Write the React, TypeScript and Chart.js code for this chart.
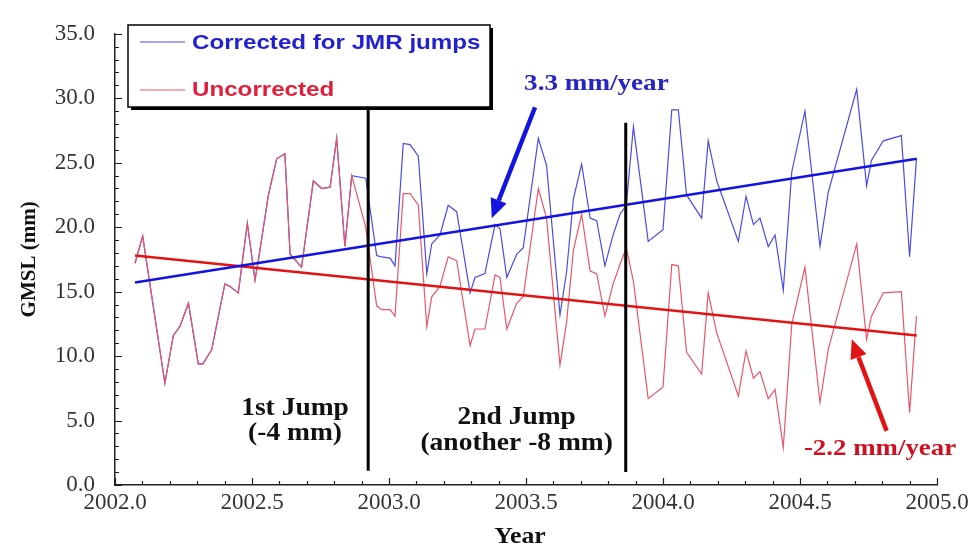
import React, { useEffect, useRef } from 'react';
import { Chart, registerables } from 'chart.js';

Chart.register(...registerables);

// ---------- data ----------
const years = [
  2002.073, 2002.101, 2002.182, 2002.213, 2002.237, 2002.268, 2002.304, 2002.321, 2002.353, 2002.401,
  2002.420, 2002.450, 2002.483, 2002.511, 2002.523, 2002.560, 2002.590, 2002.620, 2002.639, 2002.681,
  2002.724, 2002.754, 2002.785, 2002.809, 2002.839, 2002.864, 2002.915, 2002.955, 2002.973, 2003.004,
  2003.022, 2003.052, 2003.077, 2003.107, 2003.138, 2003.156, 2003.186, 2003.216, 2003.247, 2003.296,
  2003.314, 2003.350, 2003.387, 2003.405, 2003.430, 2003.466, 2003.490, 2003.545, 2003.575, 2003.624,
  2003.648, 2003.673, 2003.703, 2003.734, 2003.758, 2003.788, 2003.818, 2003.843, 2003.866, 2003.892,
  2003.946, 2004.000, 2004.032, 2004.056, 2004.086, 2004.141, 2004.165, 2004.196, 2004.275, 2004.303,
  2004.330, 2004.354, 2004.384, 2004.409, 2004.439, 2004.470, 2004.518, 2004.573, 2004.603, 2004.707,
  2004.743, 2004.761, 2004.804, 2004.870, 2004.900, 2004.925,
];

const uncorrected = [
  17.2, 19.3, 7.9, 11.6, 12.3, 14.1, 9.4, 9.4, 10.5, 15.6,
  15.4, 14.9, 20.3, 15.9, 17.4, 22.5, 25.3, 25.7, 17.9, 16.9,
  23.6, 23.0, 23.1, 26.9, 18.5, 24.0, 20.0, 13.9, 13.6, 13.6,
  13.1, 22.6, 22.6, 21.7, 12.3, 14.6, 15.4, 17.7, 17.4, 10.8,
  12.1, 12.1, 16.3, 16.1, 12.1, 14.1, 14.6, 23.0, 20.7, 9.3,
  12.6, 18.2, 21.0, 16.6, 16.4, 13.1, 15.6, 17.1, 18.4, 15.8,
  6.7, 7.6, 17.1, 17.0, 10.3, 8.6, 14.9, 11.8, 6.9, 10.4,
  8.3, 8.8, 6.7, 7.4, 2.9, 12.5, 16.9, 6.4, 10.5, 18.7,
  11.3, 13.1, 14.9, 15.0, 5.6, 13.1,
];

const corrected = [
  17.2, 19.3, 7.9, 11.6, 12.3, 14.1, 9.4, 9.4, 10.5, 15.6,
  15.4, 14.9, 20.3, 15.9, 17.4, 22.5, 25.3, 25.7, 17.9, 16.9,
  23.6, 23.0, 23.1, 26.9, 18.5, 24.0, 23.8, 17.8, 17.7, 17.6,
  17.0, 26.5, 26.4, 25.5, 16.4, 18.7, 19.4, 21.7, 21.2, 14.9,
  16.1, 16.4, 20.2, 19.9, 16.1, 17.9, 18.4, 26.9, 24.8, 13.2,
  16.5, 22.2, 24.9, 20.7, 20.5, 17.0, 19.4, 21.0, 21.7, 27.8,
  18.9, 19.8, 29.1, 29.1, 22.5, 20.7, 26.7, 23.6, 18.9, 22.4,
  20.2, 20.7, 18.5, 19.4, 15.1, 24.3, 29.0, 18.5, 22.7, 30.7,
  23.2, 25.2, 26.7, 27.1, 17.7, 25.3,
];

const trendYears = [2002.073, 2004.926];
const correctedTrend = [15.7, 25.3];
const uncorrectedTrend = [17.8, 11.6];

const jumpYears = [2002.924, 2003.864];
const jumpBottoms = [1.1, 1.0];
const jumpTops = [30.0, 28.1];

const xTicks = [2002.0, 2002.5, 2003.0, 2003.5, 2004.0, 2004.5, 2005.0];
const yTicks = [0, 5, 10, 15, 20, 25, 30, 35];

const legendLabels = ['Corrected for JMR jumps', 'Uncorrected'];
const correctedRateLabel = '3.3 mm/year';
const uncorrectedRateLabel = '-2.2 mm/year';
const jump1Label = ['1st Jump', '(-4 mm)'];
const jump2Label = ['2nd Jump', '(another -8 mm)'];

// ---------- styles ----------
const BLUE_DATA = '#4a4ae6';
const RED_DATA = '#e8566a';
const BLUE_TREND = '#1414e0';
const RED_TREND = '#e01414';
const SERIF = '"Liberation Serif", "Times New Roman", serif';
const SANS = '"Liberation Sans", Arial, sans-serif';

const toXY = (xs: number[], ys: number[]) => xs.map((x, i) => ({ x, y: ys[i] }));

function stretchText(
  ctx: CanvasRenderingContext2D,
  str: string,
  x: number,
  y: number,
  font: string,
  color: string,
  align: CanvasTextAlign = 'center',
  sx = 1.12
) {
  ctx.save();
  ctx.translate(x, y);
  ctx.scale(sx, 1);
  ctx.font = font;
  ctx.fillStyle = color;
  ctx.textAlign = align;
  ctx.textBaseline = 'middle';
  ctx.fillText(str, 0, 0);
  ctx.restore();
}

function arrow(
  ctx: CanvasRenderingContext2D,
  x1: number,
  y1: number,
  x2: number,
  y2: number,
  color: string
) {
  const ang = Math.atan2(y2 - y1, x2 - x1);
  const headLen = 19;
  const headW = 8.5;
  const bx = x2 - headLen * Math.cos(ang);
  const by = y2 - headLen * Math.sin(ang);
  ctx.save();
  ctx.strokeStyle = color;
  ctx.fillStyle = color;
  ctx.lineWidth = 4.5;
  ctx.beginPath();
  ctx.moveTo(x1, y1);
  ctx.lineTo(bx, by);
  ctx.stroke();
  ctx.beginPath();
  ctx.moveTo(x2, y2);
  ctx.lineTo(bx + headW * Math.sin(ang), by - headW * Math.cos(ang));
  ctx.lineTo(bx - headW * Math.sin(ang), by + headW * Math.cos(ang));
  ctx.closePath();
  ctx.fill();
  ctx.restore();
}

const decorPlugin = {
  id: 'decor',
  afterDraw(chart: any) {
    const ctx: CanvasRenderingContext2D = chart.ctx;
    const xs = chart.scales.x;
    const ys = chart.scales.y;
    const area = chart.chartArea;
    const px = (v: number) => xs.getPixelForValue(v);
    const py = (v: number) => ys.getPixelForValue(v);

    // inward tick marks
    ctx.save();
    ctx.strokeStyle = '#222';
    ctx.lineWidth = 1.2;
    ctx.beginPath();
    for (let i = 0; i <= 35; i++) {
      const y = Math.round(py(i)) + 0.5;
      const len = i % 5 === 0 ? 7 : 4;
      ctx.moveTo(area.left, y);
      ctx.lineTo(area.left + len, y);
    }
    for (let i = 0; i <= 30; i++) {
      const x = Math.round(px(2002 + i * 0.1)) + 0.5;
      const len = i % 5 === 0 ? 7 : 4;
      ctx.moveTo(x, area.bottom);
      ctx.lineTo(x, area.bottom - len);
    }
    ctx.stroke();
    ctx.restore();

    // axis titles
    ctx.save();
    ctx.translate(30, (area.top + area.bottom) / 2);
    ctx.rotate(-Math.PI / 2);
    ctx.font = `bold 21px ${SERIF}`;
    ctx.fillStyle = '#111';
    ctx.textAlign = 'center';
    ctx.textBaseline = 'middle';
    ctx.fillText('GMSL (mm)', 0, 0);
    ctx.restore();
    stretchText(ctx, 'Year', 520, 537, `bold 23px ${SERIF}`, '#111');

    // legend box with shadow
    const lx = 128, ly = 25, lw = 362, lh = 82;
    ctx.save();
    ctx.fillStyle = '#000';
    ctx.fillRect(lx + 3, ly + 3, lw, lh);
    ctx.fillStyle = '#fff';
    ctx.fillRect(lx, ly, lw, lh);
    ctx.strokeStyle = '#000';
    ctx.lineWidth = 1.5;
    ctx.strokeRect(lx, ly, lw, lh);
    ctx.lineWidth = 1.2;
    ctx.strokeStyle = BLUE_DATA;
    ctx.beginPath();
    ctx.moveTo(140, 42);
    ctx.lineTo(185, 42);
    ctx.stroke();
    ctx.strokeStyle = RED_DATA;
    ctx.beginPath();
    ctx.moveTo(140, 90);
    ctx.lineTo(185, 90);
    ctx.stroke();
    ctx.restore();
    stretchText(ctx, legendLabels[0], 192, 43, `bold 21px ${SANS}`, '#2222d0', 'left', 1.15);
    stretchText(ctx, legendLabels[1], 192, 90, `bold 21px ${SANS}`, '#e0203a', 'left', 1.15);

    // annotations
    stretchText(ctx, correctedRateLabel, px(2003.757), py(31.1), `bold 24px ${SERIF}`, '#2424c8', 'center', 1.13);
    arrow(ctx, px(2003.533), py(29.3), px(2003.375), py(20.7), BLUE_TREND);
    stretchText(ctx, uncorrectedRateLabel, px(2004.792), py(2.8), `bold 24px ${SERIF}`, '#d01020', 'center', 1.12);
    arrow(ctx, px(2004.816), py(4.2), px(2004.689), py(11.3), RED_TREND);

    stretchText(ctx, jump1Label[0], px(2002.657), py(5.96), `bold 25px ${SERIF}`, '#111', 'center', 1.1);
    stretchText(ctx, jump1Label[1], px(2002.657), py(3.96), `bold 25px ${SERIF}`, '#111', 'center', 1.1);
    stretchText(ctx, jump2Label[0], px(2003.466), py(5.2), `bold 25px ${SERIF}`, '#111', 'center', 1.1);
    stretchText(ctx, jump2Label[1], px(2003.466), py(3.2), `bold 25px ${SERIF}`, '#111', 'center', 1.1);
  },
};

export default function App() {
  const canvasRef = useRef<HTMLCanvasElement | null>(null);

  useEffect(() => {
    if (!canvasRef.current) return;
    const chart = new Chart(canvasRef.current, {
      type: 'line',
      data: {
        datasets: [
          {
            label: 'jump1',
            data: [
              { x: jumpYears[0], y: jumpBottoms[0] },
              { x: jumpYears[0], y: jumpTops[0] },
            ],
            borderColor: '#000',
            borderWidth: 3,
            order: 0,
          },
          {
            label: 'jump2',
            data: [
              { x: jumpYears[1], y: jumpBottoms[1] },
              { x: jumpYears[1], y: jumpTops[1] },
            ],
            borderColor: '#000',
            borderWidth: 3,
            order: 0,
          },
          {
            label: 'Corrected trend',
            data: toXY(trendYears, correctedTrend),
            borderColor: BLUE_TREND,
            borderWidth: 2.5,
            order: 1,
          },
          {
            label: 'Uncorrected trend',
            data: toXY(trendYears, uncorrectedTrend),
            borderColor: RED_TREND,
            borderWidth: 2.5,
            order: 1,
          },
          {
            label: legendLabels[1],
            data: toXY(years, uncorrected),
            borderColor: RED_DATA,
            borderWidth: 1.2,
            order: 2,
          },
          {
            label: legendLabels[0],
            data: toXY(years, corrected),
            borderColor: BLUE_DATA,
            borderWidth: 1.2,
            order: 3,
          },
        ],
      },
      options: {
        responsive: false,
        animation: false,
        events: [],
        elements: {
          point: { radius: 0 },
          line: { tension: 0, fill: false },
        },
        layout: { padding: { top: 26, right: 41, left: 0, bottom: 0 } },
        plugins: {
          legend: { display: false },
          tooltip: { enabled: false },
          title: { display: false },
        },
        scales: {
          x: {
            type: 'linear',
            min: 2002,
            max: 2005,
            afterBuildTicks: (s: any) => {
              s.ticks = xTicks.map((v) => ({ value: v }));
            },
            afterFit: (s: any) => {
              s.height = 63;
            },
            grid: { display: false, drawTicks: false },
            border: { display: true, color: '#222', width: 1.5 },
            ticks: {
              autoSkip: false,
              maxRotation: 0,
              padding: 4,
              color: '#333',
              font: { family: SERIF, size: 23 },
              callback: (v: any) => Number(v).toFixed(1),
            },
          },
          y: {
            type: 'linear',
            min: 0,
            max: 35,
            afterBuildTicks: (s: any) => {
              s.ticks = yTicks.map((v) => ({ value: v }));
            },
            afterFit: (s: any) => {
              s.width = 115;
            },
            grid: { display: false, drawTicks: false },
            border: { display: true, color: '#222', width: 1.5 },
            ticks: {
              padding: 20,
              color: '#333',
              font: { family: SERIF, size: 23 },
              callback: (v: any) => Number(v).toFixed(1),
            },
          },
        },
      },
      plugins: [decorPlugin],
    } as any);
    return () => chart.destroy();
  }, []);

  return (
    <div style={{ position: 'fixed', left: 0, top: 0, width: 978, height: 548, background: '#fff' }}>
      <canvas ref={canvasRef} width={978} height={548} style={{ display: 'block' }} />
    </div>
  );
}
